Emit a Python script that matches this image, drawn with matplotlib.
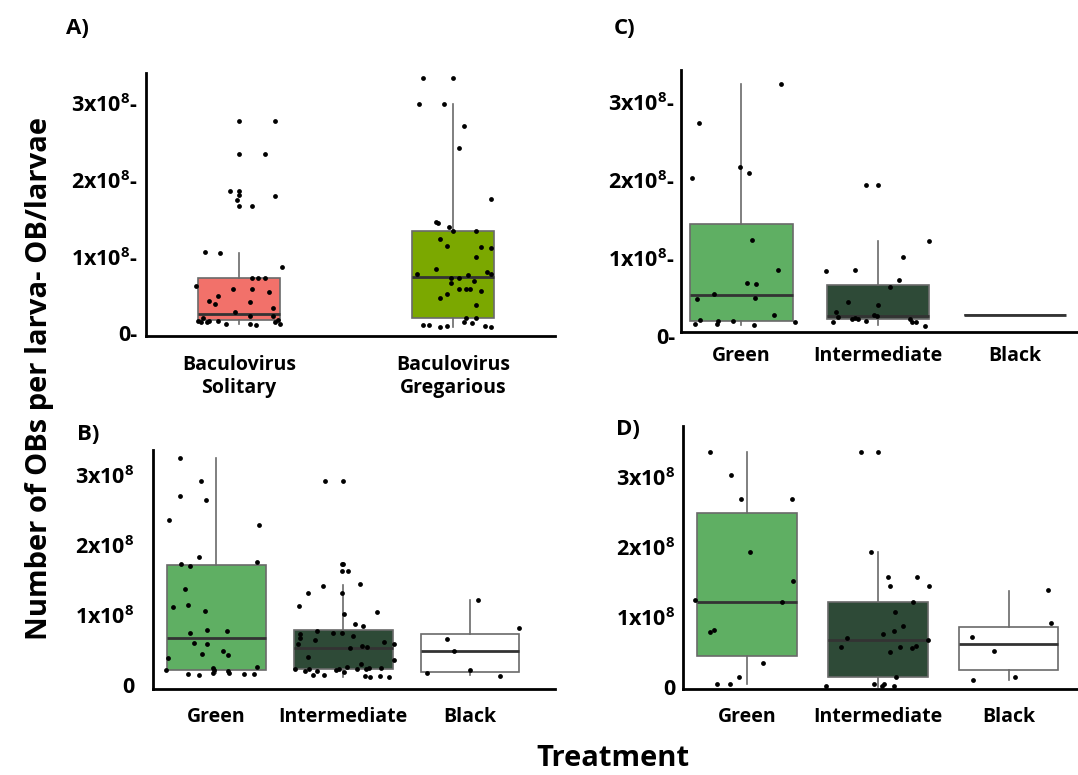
import matplotlib.pyplot as plt
from matplotlib.transforms import blended_transform_factory

plt.rcParams['font.family'] = ['Open Sans', 'DejaVu Sans']
plt.rcParams['font.weight'] = 'bold'
plt.rcParams['mathtext.fontset'] = 'custom'
plt.rcParams['mathtext.rm'] = 'Open Sans:bold'
plt.rcParams['mathtext.default'] = 'regular'

# values are in units of 1e8 OBs per larva

# --- panel A: Baculovirus origin
a_cats = ["Baculovirus\nSolitary", "Baculovirus\nGregarious"]
a_colors = ["#f2716a", "#7ba800"]
a_q1 = [0.21, 0.24]
a_med = [0.29, 0.77]
a_q3 = [0.75, 1.36]
a_lo = [0.16, 0.12]
a_hi = [1.08, 3.02]

sol_y = [2.80, 2.80, 2.37, 2.37, 1.89, 1.89, 1.83, 1.77, 1.69, 1.69, 1.82, 1.09, 1.08,
         0.90, 0.65, 0.76, 0.76, 0.76, 0.61, 0.61, 0.57, 0.52, 0.45, 0.41, 0.44, 0.37,
         0.31, 0.26, 0.26, 0.20, 0.18, 0.23, 0.18, 0.20, 0.20, 0.16, 0.16, 0.14, 0.18,
         0.21, 0.16]
sol_dx = [0.00, 0.17, 0.00, 0.12, -0.04, 0.00, 0.00, -0.01, 0.00, 0.06, 0.17, -0.16, -0.09,
          0.20, -0.20, 0.06, 0.09, 0.12, -0.03, 0.06, 0.14, -0.10, -0.14, -0.11, 0.05, 0.16,
          -0.02, 0.05, 0.16, -0.19, -0.18, -0.17, -0.15, -0.14, -0.10, -0.06, 0.05, 0.08, 0.17,
          0.18, 0.19]
greg_y = [3.36, 3.36, 3.02, 3.02, 2.73, 2.44, 1.78, 1.48, 1.47, 1.42, 1.36, 1.36, 1.26,
          1.17, 1.16, 1.15, 1.03, 0.87, 0.81, 0.83, 0.80, 0.76, 0.76, 0.79, 0.71, 0.69,
          0.61, 0.61, 0.61, 0.58, 0.54, 0.50, 0.40, 0.23, 0.23, 0.18, 0.17, 0.14, 0.14,
          0.12, 0.13, 0.13, 0.12]
greg_dx = [-0.14, 0.00, -0.16, -0.04, 0.05, 0.03, 0.18, -0.08, -0.07, -0.02, 0.00, 0.11, -0.06,
           -0.03, 0.13, 0.18, 0.11, -0.08, -0.17, 0.16, 0.18, -0.01, 0.03, 0.07, 0.10, -0.01,
           0.03, 0.06, 0.08, 0.13, -0.03, -0.06, 0.11, 0.06, 0.11, 0.05, 0.09, -0.14, -0.11,
           -0.06, -0.03, 0.15, 0.18]

# --- shared categories for B, C, D
morphs = ["Green", "Intermediate", "Black"]
morph_colors = ["#5faf63", "#2e4a37", "#ffffff"]

# --- panel C
c_q1 = [0.22, 0.24, 0.29]
c_med = [0.55, 0.28, 0.29]
c_q3 = [1.46, 0.68, 0.29]
c_lo = [0.17, 0.17, 0.29]
c_hi = [3.26, 1.25, 0.29]
c_green_y = [2.05, 2.76, 2.20, 2.12, 3.26, 1.26, 0.87, 0.70, 0.69, 0.57, 0.50, 0.51, 0.29,
             0.23, 0.22, 0.22, 0.18, 0.18, 0.17, 0.20]
c_green_dx = [-0.36, -0.31, -0.01, 0.06, 0.29, 0.08, 0.27, 0.04, 0.11, -0.20, -0.32, 0.10, 0.24,
              -0.30, -0.17, -0.06, -0.34, -0.18, 0.09, 0.39]
c_int_y = [0.86, 0.87, 1.96, 1.96, 1.25, 1.04, 0.74, 0.65, 0.46, 0.42, 0.34, 0.27, 0.25,
           0.26, 0.24, 0.22, 0.30, 0.28, 0.21, 0.25, 0.21, 0.21, 0.15]
c_int_dx = [-0.38, -0.17, -0.09, 0.00, 0.37, 0.18, 0.15, 0.09, -0.22, 0.00, -0.31, -0.29, -0.19,
            -0.17, -0.15, -0.09, -0.03, -0.01, -0.33, 0.23, 0.25, 0.28, 0.34]
c_black_y = []
c_black_dx = []

# --- panel B
b_q1 = [0.26, 0.27, 0.23]
b_med = [0.71, 0.57, 0.53]
b_q3 = [1.76, 0.83, 0.77]
b_lo = [0.21, 0.16, 0.19]
b_hi = [3.29, 1.47, 1.26]
b_green_y = [3.29, 2.96, 2.74, 2.69, 2.40, 2.33, 1.87, 1.80, 1.77, 1.74, 1.41, 1.16, 1.18,
             1.10, 0.78, 0.83, 0.81, 0.64, 0.63, 0.53, 0.48, 0.47, 0.43, 0.26, 0.28, 0.30,
             0.20, 0.19, 0.22, 0.26, 0.24, 0.22, 0.20, 0.20]
b_green_dx = [-0.29, -0.12, -0.29, -0.08, -0.37, 0.34, -0.14, 0.32, -0.28, -0.21, -0.25, -0.34, -0.22,
              -0.09, -0.21, -0.07, 0.08, -0.18, -0.07, 0.05, -0.11, 0.09, -0.38, -0.40, -0.03, 0.32,
              -0.22, -0.14, -0.03, -0.02, 0.09, 0.10, 0.22, 0.30]
b_int_y = [2.96, 2.96, 1.77, 1.77, 1.67, 1.67, 1.46, 1.48, 1.35, 1.35, 1.17, 1.09, 1.05,
           0.91, 0.89, 0.82, 0.78, 0.78, 0.77, 0.71, 0.74, 0.68, 0.63, 0.65, 0.63, 0.60,
           0.59, 0.57, 0.44, 0.40, 0.34, 0.27, 0.24, 0.27, 0.24, 0.19, 0.19, 0.25, 0.27,
           0.23, 0.30, 0.27, 0.27, 0.28, 0.29, 0.17, 0.16, 0.17, 0.16]
b_int_dx = [-0.14, 0.00, -0.01, 0.00, -0.01, 0.04, -0.16, 0.13, -0.28, -0.01, -0.35, 0.27, 0.01,
            0.09, 0.16, -0.21, -0.08, -0.01, -0.34, -0.34, 0.08, -0.22, -0.36, 0.32, 0.40, 0.15,
            0.19, 0.05, -0.28, 0.40, 0.14, -0.38, -0.30, -0.27, -0.21, -0.24, -0.15, -0.06, -0.03,
            0.01, 0.03, 0.11, 0.18, 0.20, 0.30, 0.17, 0.21, 0.29, 0.36]
b_black_y = [1.26, 0.85, 0.70, 0.53, 0.22, 0.25, 0.17]
b_black_dx = [0.06, 0.39, -0.18, -0.13, -0.34, 0.00, 0.24]

# --- panel D
d_q1 = [0.49, 0.18, 0.28]
d_med = [1.26, 0.71, 0.66]
d_q3 = [2.53, 1.26, 0.90]
d_lo = [0.08, 0.04, 0.14]
d_hi = [3.40, 1.97, 1.42]
d_green_y = [3.40, 3.07, 2.73, 2.73, 1.97, 1.55, 1.28, 1.25, 0.83, 0.85, 0.38, 0.19, 0.09, 0.08]
d_green_dx = [-0.28, -0.12, -0.05, 0.34, 0.02, 0.35, -0.40, 0.27, -0.28, -0.25, 0.12, -0.06, -0.23, -0.13]
d_int_y = [3.40, 3.40, 1.97, 1.61, 1.62, 1.48, 1.48, 1.26, 1.11, 0.92, 0.84, 0.80, 0.74,
           0.61, 0.71, 0.62, 0.63, 0.60, 0.54, 0.19, 0.06, 0.08, 0.06, 0.09, 0.06]
d_int_dx = [-0.13, 0.00, -0.05, 0.08, 0.30, 0.09, 0.39, 0.27, 0.13, 0.19, 0.12, 0.04, -0.24,
            -0.28, 0.38, 0.17, 0.29, 0.26, 0.09, 0.14, -0.40, -0.03, 0.03, 0.05, 0.12]
d_black_y = [1.43, 0.95, 0.76, 0.56, 0.14, 0.19]
d_black_dx = [0.30, 0.32, -0.28, -0.11, -0.27, 0.05]

tick_vals = [0, 1, 2, 3]

fig = plt.figure(figsize=(10.78, 7.75), dpi=100)


def panel(rect, cats, colors, q1, med, q3, lo, hi, pts_y, pts_dx, ylim, xlim, width,
          tick_txt, tick_x, xpad, xsize):
    ax = fig.add_axes(rect)
    stats = []
    for i in range(len(cats)):
        stats.append(dict(q1=q1[i], med=med[i], q3=q3[i], whislo=lo[i], whishi=hi[i], fliers=[]))
    bp = ax.bxp(stats, positions=list(range(len(cats))), widths=width, patch_artist=True,
                showcaps=False, showfliers=False,
                boxprops=dict(edgecolor="#6a6a6a", linewidth=1.2),
                whiskerprops=dict(color="#6a6a6a", linewidth=1.2),
                medianprops=dict(color="#333333", linewidth=2))
    for patch, col in zip(bp["boxes"], colors):
        patch.set_facecolor(col)
    for i, (ys, dxs) in enumerate(zip(pts_y, pts_dx)):
        ax.scatter([i + d for d in dxs], ys, s=12, color="black", zorder=3, linewidths=0)
    ax.set_xlim(*xlim)
    ax.set_ylim(*ylim)
    for s in ["top", "right"]:
        ax.spines[s].set_visible(False)
    ax.spines["left"].set_linewidth(2)
    ax.spines["bottom"].set_linewidth(2)
    ax.set_yticks([])
    ax.set_xticks(list(range(len(cats))), cats, fontsize=xsize, fontweight="bold")
    ax.tick_params(axis="x", length=0, pad=xpad)
    tr = blended_transform_factory(ax.transAxes, ax.transData)
    for v, t in zip(tick_vals, tick_txt):
        ax.text(tick_x, v, t, transform=tr, ha="right", va="center", fontsize=15.5,
                fontweight="bold")
    return ax


dash_lbl = ["0-", "1x10$^{8}$-", "2x10$^{8}$-", "3x10$^{8}$-"]
plain_lbl = ["0", "1x10$^{8}$", "2x10$^{8}$", "3x10$^{8}$"]

panel([0.1354, 0.5665, 0.3794, 0.3394], a_cats, a_colors, a_q1, a_med, a_q3, a_lo, a_hi,
      [sol_y, greg_y], [sol_dx, greg_dx], (0, 3.42), (-0.435, 1.477), 0.38,
      dash_lbl, -0.02, 14, 14)
panel([0.6317, 0.5716, 0.3683, 0.3381], morphs, morph_colors, c_q1, c_med, c_q3, c_lo, c_hi,
      [c_green_y, c_int_y, c_black_y], [c_green_dx, c_int_dx, c_black_dx],
      (0.077, 3.44), (-0.44, 2.46), 0.75, dash_lbl, -0.015, 10, 14)
panel([0.1419, 0.111, 0.3729, 0.3084], morphs, morph_colors, b_q1, b_med, b_q3, b_lo, b_hi,
      [b_green_y, b_int_y, b_black_y], [b_green_dx, b_int_dx, b_black_dx],
      (-0.014, 3.40), (-0.50, 2.67), 0.78, plain_lbl, -0.045, 13, 14)
panel([0.6336, 0.111, 0.3664, 0.3394], morphs, morph_colors, d_q1, d_med, d_q3, d_lo, d_hi,
      [d_green_y, d_int_y, d_black_y], [d_green_dx, d_int_dx, d_black_dx],
      (0.014, 3.77), (-0.49, 2.53), 0.76, plain_lbl, -0.02, 13, 14)

fig.text(77 / 1078, 1 - 28 / 775, "A)", fontsize=16, fontweight="bold", ha="center", va="center")
fig.text(625 / 1078, 1 - 28 / 775, "C)", fontsize=16, fontweight="bold", ha="center", va="center")
fig.text(88 / 1078, 1 - 435 / 775, "B)", fontsize=16, fontweight="bold", ha="center", va="center")
fig.text(628 / 1078, 1 - 429 / 775, "D)", fontsize=16, fontweight="bold", ha="center", va="center")

fig.text(40 / 1078, 1 - 378 / 775, "Number of OBs per larva- OB/larvae", rotation=90,
         fontsize=21, fontweight="bold", ha="center", va="center")
fig.text(613 / 1078, 1 - 758 / 775, "Treatment", fontsize=21, fontweight="bold",
         ha="center", va="center")

fig.savefig("out.png", dpi=100)
